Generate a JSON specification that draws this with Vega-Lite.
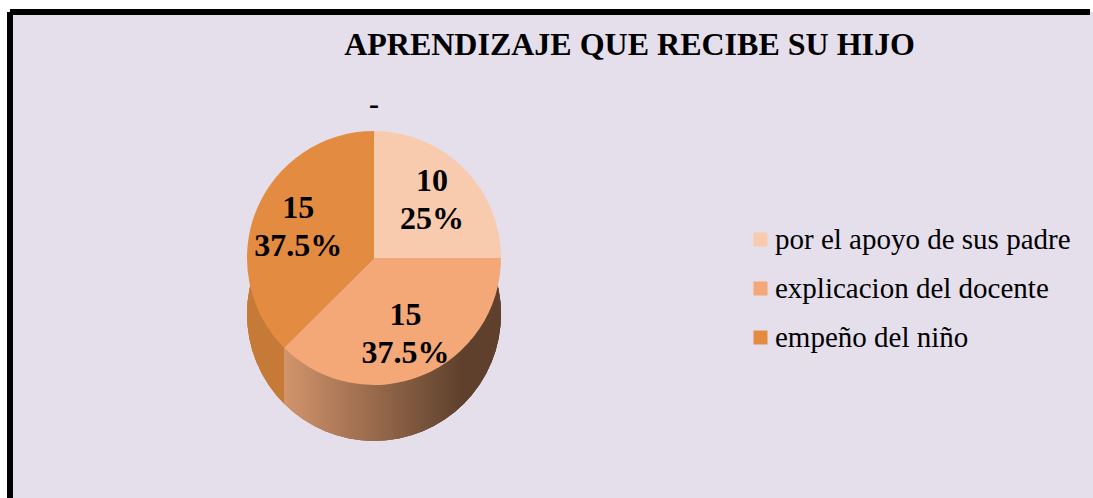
{
  "$schema": "https://vega.github.io/schema/vega-lite/v6.json",
  "width": 1083,
  "height": 486,
  "autosize": {"type": "none"},
  "padding": {"left": 10, "top": 12, "right": 0, "bottom": 0},
  "background": "white",
  "config": {
    "font": "Liberation Serif",
    "view": {"fill": "#E5DFEC", "stroke": "black", "strokeWidth": 6, "strokeDash": [1080, 1572, 486, 0]}
  },
  "title": {
    "text": "APRENDIZAJE QUE RECIBE SU HIJO",
    "font": "Liberation Serif",
    "fontSize": 32,
    "fontWeight": "bold",
    "color": "black",
    "anchor": "middle",
    "dx": 78,
    "offset": -75,
    "baseline": "alphabetic"
  },
  "data": {
    "values": [
      {"categoria": "por el apoyo de sus padre", "cantidad": 10, "porcentaje": "25%", "orden": 1},
      {"categoria": "explicacion del docente", "cantidad": 15, "porcentaje": "37.5%", "orden": 2},
      {"categoria": "empeño del niño", "cantidad": 15, "porcentaje": "37.5%", "orden": 3}
    ]
  },
  "encoding": {
    "x": {"datum": 0.3361, "type": "quantitative", "scale": {"domain": [0, 1]}, "axis": null},
    "y": {"datum": 0.4938, "type": "quantitative", "scale": {"domain": [0, 1]}, "axis": null}
  },
  "layer": [
    {
      "mark": {
        "type": "point",
        "shape": "circle",
        "size": 64516,
        "filled": true,
        "opacity": 1,
        "strokeWidth": 0,
        "yOffset": 56,
        "fill": {
          "gradient": "linear",
          "x1": 0, "x2": 1, "y1": 0, "y2": 0,
          "stops": [
            {"offset": 0, "color": "#C57A38"},
            {"offset": 0.146, "color": "#C57A38"},
            {"offset": 0.147, "color": "#D2946C"},
            {"offset": 0.85, "color": "#5E402C"},
            {"offset": 1, "color": "#5E402C"}
          ]
        }
      }
    },
    {
      "mark": {"type": "arc", "radius": 127},
      "encoding": {
        "theta": {"field": "cantidad", "type": "quantitative", "stack": true},
        "order": {"field": "orden", "type": "quantitative"},
        "color": {
          "field": "categoria",
          "type": "nominal",
          "scale": {
            "domain": ["por el apoyo de sus padre", "explicacion del docente", "empeño del niño"],
            "range": ["#F8CAAE", "#F4A877", "#E38B41"]
          },
          "legend": {
            "orient": "none",
            "legendX": 736,
            "legendY": 213,
            "title": null,
            "symbolType": "square",
            "symbolSize": 196,
            "symbolStrokeWidth": 0,
            "labelFont": "Liberation Serif",
            "labelFontSize": 29,
            "labelColor": "black",
            "labelLimit": 500,
            "rowPadding": 19,
            "labelOffset": 0,
            "padding": 0
          }
        }
      }
    },
    {
      "mark": {"type": "text", "radius": 82, "font": "Liberation Serif", "fontSize": 32, "fontWeight": "bold", "color": "black", "dy": -19},
      "encoding": {
        "theta": {"field": "cantidad", "type": "quantitative", "stack": true},
        "order": {"field": "orden", "type": "quantitative"},
        "detail": {"field": "categoria", "type": "nominal"},
        "text": {"field": "cantidad", "type": "quantitative"}
      }
    },
    {
      "mark": {"type": "text", "radius": 82, "font": "Liberation Serif", "fontSize": 32, "fontWeight": "bold", "color": "black", "dy": 19},
      "encoding": {
        "theta": {"field": "cantidad", "type": "quantitative", "stack": true},
        "order": {"field": "orden", "type": "quantitative"},
        "detail": {"field": "categoria", "type": "nominal"},
        "text": {"field": "porcentaje", "type": "nominal"}
      }
    },
    {
      "data": {"values": [{"marca": "-"}]},
      "mark": {"type": "text", "font": "Liberation Serif", "fontSize": 30, "fontWeight": "bold", "color": "black"},
      "encoding": {
        "y": {"datum": 0.8086, "type": "quantitative"},
        "text": {"field": "marca", "type": "nominal"}
      }
    }
  ]
}
